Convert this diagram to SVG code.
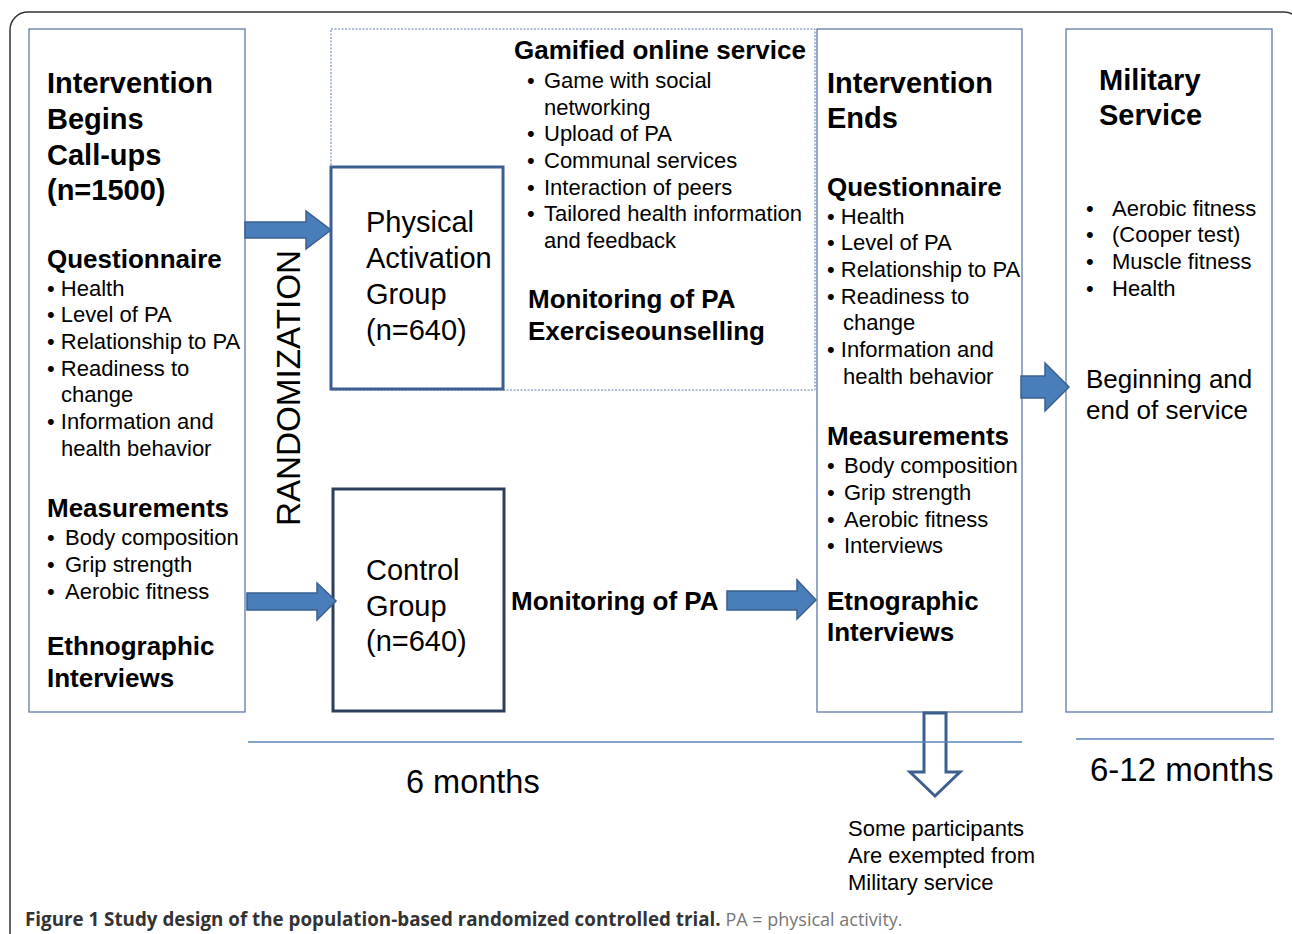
<svg xmlns="http://www.w3.org/2000/svg" width="1292" height="934" viewBox="0 0 1292 934">
<style>
text{font-family:"Liberation Sans",Arial,sans-serif;fill:#000}
.h{font-weight:bold;font-size:26px}
.t{font-weight:bold;font-size:29px}
.i{font-size:22px}
.g{font-size:29px}
.box{fill:#fff;stroke:#4f6fa0;stroke-width:1.2}
.grp{fill:#fff;stroke:#3d5f8f;stroke-width:3}
.arr{fill:#4a7ebb;stroke:#3a5f8f;stroke-width:1.5}
.tl{stroke:#5a82bc;stroke-width:1.5;fill:none}
</style>
<rect width="1292" height="934" fill="#fff"/>
<rect x="10" y="12" width="1292" height="960" rx="18" fill="none" stroke="#333" stroke-width="1.5"/>

<g id="begins">
<rect class="box" x="29" y="29" width="216" height="683"/>
<text class="t" x="47" y="93">Intervention</text>
<text class="t" x="47" y="129">Begins</text>
<text class="t" x="47" y="165">Call-ups</text>
<text class="t" x="47" y="200">(n=1500)</text>
<text class="h" x="47" y="268">Questionnaire</text>
<text class="i" x="47" y="296">• Health</text>
<text class="i" x="47" y="322">• Level of PA</text>
<text class="i" x="47" y="349">• Relationship to PA</text>
<text class="i" x="47" y="376">• Readiness to</text>
<text class="i" x="61" y="402">change</text>
<text class="i" x="47" y="429">• Information and</text>
<text class="i" x="61" y="456">health behavior</text>
<text class="h" x="47" y="517">Measurements</text>
<text class="i" x="47" y="545">•</text><text class="i" x="65" y="545">Body composition</text>
<text class="i" x="47" y="572">•</text><text class="i" x="65" y="572">Grip strength</text>
<text class="i" x="47" y="599">•</text><text class="i" x="65" y="599">Aerobic fitness</text>
<text class="h" x="47" y="655">Ethnographic</text>
<text class="h" x="47" y="687">Interviews</text>
</g>

<g id="randomization">
<text transform="translate(300,526) rotate(-90)" x="0" y="0" font-size="34" textLength="276" lengthAdjust="spacingAndGlyphs">RANDOMIZATION</text>
</g>

<g id="gamified">
<rect x="331" y="29" width="484" height="361" fill="none" stroke="#5a7aa6" stroke-width="1" stroke-dasharray="2,1.5"/>
<text class="h" x="514" y="59">Gamified online service</text>
<text class="i" x="527" y="88">•</text><text class="i" x="544" y="88">Game with social</text>
<text class="i" x="544" y="115">networking</text>
<text class="i" x="527" y="141">•</text><text class="i" x="544" y="141">Upload of PA</text>
<text class="i" x="527" y="168">•</text><text class="i" x="544" y="168">Communal services</text>
<text class="i" x="527" y="195">•</text><text class="i" x="544" y="195">Interaction of peers</text>
<text class="i" x="527" y="221">•</text><text class="i" x="544" y="221">Tailored health information</text>
<text class="i" x="544" y="248">and feedback</text>
<text class="h" x="528" y="308">Monitoring of PA</text>
<text class="h" x="528" y="340">Exerciseounselling</text>
</g>

<g id="physical">
<rect class="grp" x="331" y="167" width="172" height="222"/>
<text class="g" x="366" y="232">Physical</text>
<text class="g" x="366" y="268">Activation</text>
<text class="g" x="366" y="304">Group</text>
<text class="g" x="366" y="340">(n=640)</text>
</g>

<g id="control">
<rect x="333" y="489" width="171" height="222" fill="#fff" stroke="#2e3f5e" stroke-width="3"/>
<text class="g" x="366" y="580">Control</text>
<text class="g" x="366" y="616">Group</text>
<text class="g" x="366" y="651">(n=640)</text>
<text class="h" x="511" y="610">Monitoring of PA</text>
</g>

<g id="ends">
<rect class="box" x="817" y="29" width="205" height="683"/>
<text class="t" x="827" y="93">Intervention</text>
<text class="t" x="827" y="128">Ends</text>
<text class="h" x="827" y="196">Questionnaire</text>
<text class="i" x="827" y="224">• Health</text>
<text class="i" x="827" y="250">• Level of PA</text>
<text class="i" x="827" y="277">• Relationship to PA</text>
<text class="i" x="827" y="304">• Readiness to</text>
<text class="i" x="843" y="330">change</text>
<text class="i" x="827" y="357">• Information and</text>
<text class="i" x="843" y="384">health behavior</text>
<text class="h" x="827" y="445">Measurements</text>
<text class="i" x="827" y="473">•</text><text class="i" x="844" y="473">Body composition</text>
<text class="i" x="827" y="500">•</text><text class="i" x="844" y="500">Grip strength</text>
<text class="i" x="827" y="527">•</text><text class="i" x="844" y="527">Aerobic fitness</text>
<text class="i" x="827" y="553">•</text><text class="i" x="844" y="553">Interviews</text>
<text class="h" x="827" y="610">Etnographic</text>
<text class="h" x="827" y="641">Interviews</text>
</g>

<g id="military">
<rect class="box" x="1066" y="29" width="206" height="683"/>
<text class="t" x="1099" y="90">Military</text>
<text class="t" x="1099" y="125">Service</text>
<text class="i" x="1086" y="216">•</text><text class="i" x="1112" y="216">Aerobic fitness</text>
<text class="i" x="1086" y="242">•</text><text class="i" x="1112" y="242">(Cooper test)</text>
<text class="i" x="1086" y="269">•</text><text class="i" x="1112" y="269">Muscle fitness</text>
<text class="i" x="1086" y="296">•</text><text class="i" x="1112" y="296">Health</text>
<text x="1086" y="388" font-size="26">Beginning and</text>
<text x="1086" y="419" font-size="26">end of service</text>
</g>

<g id="connectors">
<path class="arr" d="M245,222 H306 V211 L331,230 L306,249 V238 H245 Z"/>
<path class="arr" d="M247,593 H317 V583 L336,601 L317,620 V610 H247 Z"/>
<path class="arr" d="M727,591 H797 V580 L816,600 L797,619 V610 H727 Z"/>
<path class="arr" d="M1021,376 H1045 V363 L1069,387 L1045,411 V398 H1021 Z"/>
<path d="M924,713 H946 V772 H960 L935,796 L910,772 H924 Z" fill="#fff" stroke="#3d5f8f" stroke-width="3"/>
<line class="tl" x1="248" y1="742" x2="1022" y2="742"/>
<line class="tl" x1="1076" y1="739" x2="1274" y2="739"/>
</g>

<g id="labels">
<text x="406" y="793" font-size="32.5">6 months</text>
<text x="1090" y="781" font-size="33">6-12 months</text>
<text class="i" x="848" y="836">Some participants</text>
<text class="i" x="848" y="863">Are exempted from</text>
<text class="i" x="848" y="890">Military service</text>
</g>

<g id="caption">
<text x="25" y="926" font-size="18.8" style="font-family:'Open Sans',sans-serif"><tspan font-weight="bold" fill="#333">Figure 1 Study design of the population-based randomized controlled trial.</tspan><tspan fill="#777" font-size="18"> PA = physical activity.</tspan></text>
</g>
</svg>
